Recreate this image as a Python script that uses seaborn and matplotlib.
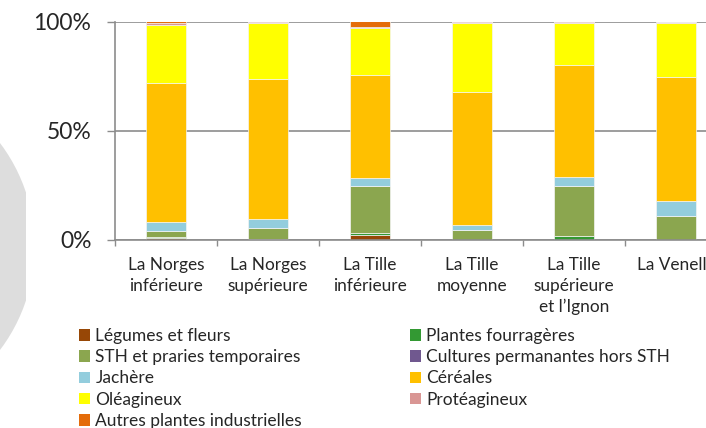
import matplotlib
matplotlib.use("Agg")
import matplotlib.pyplot as plt
import seaborn as sns
import pandas as pd
from matplotlib.patches import Circle, Rectangle, Patch

sites = ["La Norges\ninférieure", "La Norges\nsupérieure", "La Tille\ninférieure",
         "La Tille\nmoyenne", "La Tille\nsupérieure\net l\u2019Ignon", "La Venelle"]

cultures = ["Légumes et fleurs", "Plantes fourragères", "STH et praries temporaires",
            "Cultures permanantes hors STH", "Jachère", "Céréales", "Oléagineux",
            "Protéagineux", "Autres plantes industrielles"]

legumes = [1.0, 0.5, 2.3, 0.0, 0.0, 0.0]
fourrageres = [0.3, 0.0, 1.0, 0.0, 2.0, 0.0]
sth = [2.7, 4.9, 21.5, 4.6, 22.6, 11.1]
permanentes = [0.0, 0.0, 0.0, 0.0, 0.0, 0.0]
jachere = [4.3, 4.0, 3.4, 2.1, 4.1, 6.6]
cereales = [63.7, 64.1, 47.1, 61.2, 51.6, 56.9]
oleagineux = [26.2, 25.8, 21.8, 31.3, 18.9, 24.6]
proteagineux = [0.9, 0.7, 0.2, 0.8, 0.8, 0.8]
autres = [0.9, 0.0, 2.7, 0.0, 0.0, 0.0]

couleurs = ["#974706", "#339933", "#8ba64f", "#70588f", "#93cddd",
            "#ffc000", "#ffff00", "#d99694", "#e46c0a"]

series = [legumes, fourrageres, sth, permanentes, jachere, cereales,
          oleagineux, proteagineux, autres]
rows = []
for c, vals in zip(cultures, series):
    for i, v in enumerate(vals):
        rows.append({"site": i, "culture": c, "part": v})
df = pd.DataFrame(rows)
palette = dict(zip(cultures, couleurs))

sns.set_style("white")
plt.rcParams["font.family"] = ["Lato", "DejaVu Sans"]

fig = plt.figure(figsize=(7.06, 4.28), dpi=100)
ax = fig.add_axes([115 / 706, 188 / 428, 612 / 706, 218.5 / 428])

# grey disc in the background, cut on the right
disc = Circle((-1.37, 1.815), 1.717, transform=fig.dpi_scale_trans,
              facecolor="#dddddd", edgecolor="none", zorder=-1)
clip = Rectangle((-3, 0), 3.26, 5, transform=fig.dpi_scale_trans)
disc.set_clip_path(clip)
fig.patches.append(disc)

sns.histplot(data=df, x="site", hue="culture", weights="part", multiple="stack",
             discrete=True, shrink=0.4, hue_order=cultures[::-1], palette=palette,
             alpha=1, edgecolor="#f4f4f4", linewidth=0.5, legend=False, ax=ax)

grey = "#8c8c8c"
ax.set_xlim(-0.5, 5.5)
ax.set_ylim(0, 100)
ax.set_xlabel("")
ax.set_ylabel("")
ax.set_yticks([0, 50, 100])
ax.set_yticklabels(["0%", "50%", "100%"], fontsize=16.5)
ax.yaxis.grid(True, color=grey, linewidth=1.2)
ax.set_axisbelow(True)
ax.tick_params(axis="y", direction="out", length=6, width=1, color=grey, pad=11, left=True)

ax.set_xticks([-0.5, 0.5, 1.5, 2.5, 3.5, 4.5])
ax.set_xticklabels([])
ax.set_xticks(range(6), minor=True)
ax.set_xticklabels(sites, minor=True, fontsize=12.4, linespacing=1.38)
ax.tick_params(axis="x", which="major", direction="out", length=4.5, width=1,
               color=grey, bottom=True)
ax.tick_params(axis="x", which="minor", length=0, pad=12)

for side in ["top", "right"]:
    ax.spines[side].set_visible(False)
for side in ["left", "bottom"]:
    ax.spines[side].set_color(grey)
    ax.spines[side].set_linewidth(1.2)

# legend, filled row by row like the original
order = [0, 2, 4, 6, 8, 1, 3, 5, 7]
handles = [Patch(facecolor=couleurs[k], edgecolor="none", label=cultures[k]) for k in order]
fig.legend(handles=handles, loc="upper left", bbox_to_anchor=(79 / 706, 1 - 328 / 428),
           ncol=2, frameon=False, fontsize=12.5, handlelength=0.65, handleheight=0.65,
           handletextpad=0.3, labelspacing=0.3, columnspacing=6.2, borderaxespad=0,
           borderpad=0)

fig.savefig("out.png", dpi=100)
